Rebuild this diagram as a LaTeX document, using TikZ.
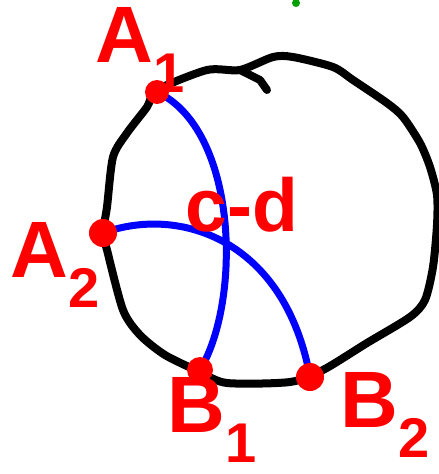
\documentclass[tikz,border=0pt]{standalone}
\usepackage{fontspec}
\setmainfont{Liberation Sans}
\usetikzlibrary{calc}
\definecolor{inkred}{HTML}{FF0000}
\definecolor{inkblue}{HTML}{0000FF}
\definecolor{inkgreen}{HTML}{00A000}

\begin{document}
\begin{tikzpicture}[
    x=1pt, y=-1pt,
    dot/.style={circle, fill=inkred, inner sep=0pt, minimum size=#1},
    lbl/.style={text=inkred, font=\fontsize{80}{80}\selectfont\bfseries, inner sep=0pt},
    chord/.style={inkblue, line width=7pt, line cap=round, line join=round},
    rim/.style={black, line width=8pt, line cap=round, line join=round},
]
\useasboundingbox (0,0) rectangle (439,474);

% Points on the circle
\coordinate (a1) at (157, 92);
\coordinate (a2) at (103, 233);
\coordinate (b1) at (200, 370);
\coordinate (b2) at (310, 377);

% Circle (hand drawn)
\draw[rim] plot[smooth cycle, tension=0.45] coordinates {
    (157,90) (207,70) (240,70) (273,57) (293,57) (333,67) (353,80)
    (387,103) (403,117) (420,143) (430,167) (437,195) (437,225)
    (433,267) (425,300) (410,317) (367,343) (323,370) (290,382)
    (227,383) (200,372) (165,355) (140,335) (123,310) (107,250)
    (103,233) (107,207) (113,157) (127,133) (147,107)};
\draw[rim] (240,70) -- (260,80) -- (267,90);

% Blue arcs
\draw[chord] (a1) .. controls (238,130) and (242,300) .. (b1);
\draw[chord] (a2) .. controls (180,205) and (285,240) .. (b2);

% Red dots
\node[dot=24pt] (pa1) at (a1) {};
\node[dot=28pt] (pa2) at (a2) {};
\node[dot=26pt] (pb1) at (b1) {};
\node[dot=28pt] (pb2) at (b2) {};

% Labels
\node[lbl] (la1) at (140, 50) {A\textsubscript{1}};
\node[lbl] (la2) at (55, 265) {A\textsubscript{2}};
\node[lbl] (lb1) at (212, 420) {B\textsubscript{1}};
\node[lbl] (lb2) at (385, 415) {B\textsubscript{2}};
\node[lbl, font=\fontsize{75}{75}\selectfont\bfseries] (lcd) at (242, 205) {c-d};

% Green mark
\fill[inkgreen] (296, 3) circle (4);

\end{tikzpicture}
\end{document}
